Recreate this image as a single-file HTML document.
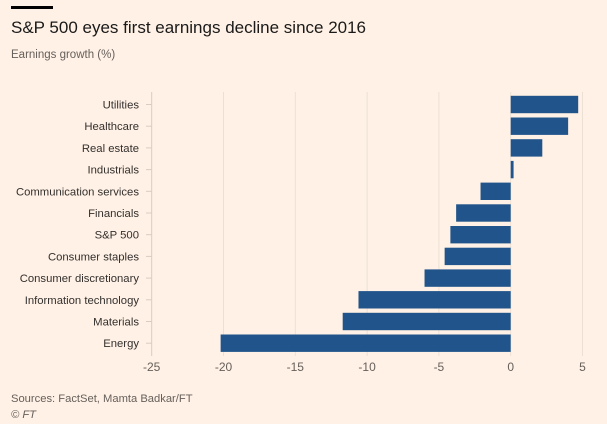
<!DOCTYPE html>
<html><head><meta charset="utf-8"><style>
body{margin:0;background:#fff1e5;font-family:"Liberation Sans",sans-serif;}
svg{display:block}
</style></head><body>
<svg width="607" height="424" id="c">
<rect x="0" y="0" width="607" height="424" fill="#fff1e5"/>
<rect x="11" y="6" width="42" height="3" fill="#000"/>
<text x="11" y="33" font-size="17" fill="#1a1a1a">S&amp;P 500 eyes first earnings decline since 2016</text>
<text x="11" y="58" font-size="11.5" fill="#66605c">Earnings growth (%)</text>
<text x="11" y="402" font-size="11.2" fill="#66605c">Sources: FactSet, Mamta Badkar/FT</text>
<text x="11" y="418" font-size="11.2" font-style="italic" fill="#66605c">© FT</text>
<g id="grid"></g><g id="bars"></g><g id="labels"></g>
</svg>
<script>
const categories=["Utilities","Healthcare","Real estate","Industrials","Communication services","Financials","S&P 500","Consumer staples","Consumer discretionary","Information technology","Materials","Energy"];
const values=[4.7,4.0,2.2,0.2,-2.1,-3.8,-4.2,-4.6,-6.0,-10.6,-11.7,-20.2];
const ticks=[-25,-20,-15,-10,-5,0,5];
const NS="http://www.w3.org/2000/svg";
const x=v=>510.7+v*14.36;
const y=i=>104.5+i*21.7;
function mk(tag,attrs,parent){const e=document.createElementNS(NS,tag);for(const k in attrs)e.setAttribute(k,attrs[k]);document.getElementById(parent).appendChild(e);return e;}
ticks.forEach(t=>{
 const l=mk('line',{x1:x(t),x2:x(t),y1:92,y2:356,stroke:t===-25?'#d9cdc2':'#ece0d5','stroke-width':1},'grid');
 
 
 const tx=mk('text',{x:x(t),y:371,'font-size':12,fill:'#66605c','text-anchor':'middle'},'labels');
 tx.textContent=t;
 
 
});
categories.forEach((c,i)=>{
 const v=values[i];
 const r=mk('rect',{x:Math.min(x(0),x(v)),y:y(i)-8.7,width:Math.abs(x(v)-x(0)),height:17.4,fill:'#20548b'},'bars');
 
 
 const tk=mk('line',{x1:146,x2:152,y1:y(i),y2:y(i),stroke:'#d9cdc2'},'grid');
 
 
 const tx=mk('text',{x:139,y:y(i)+4,'font-size':11.3,fill:'#33302e','text-anchor':'end'},'labels');
 tx.textContent=c;
 
 
});
</script>
</body></html>
